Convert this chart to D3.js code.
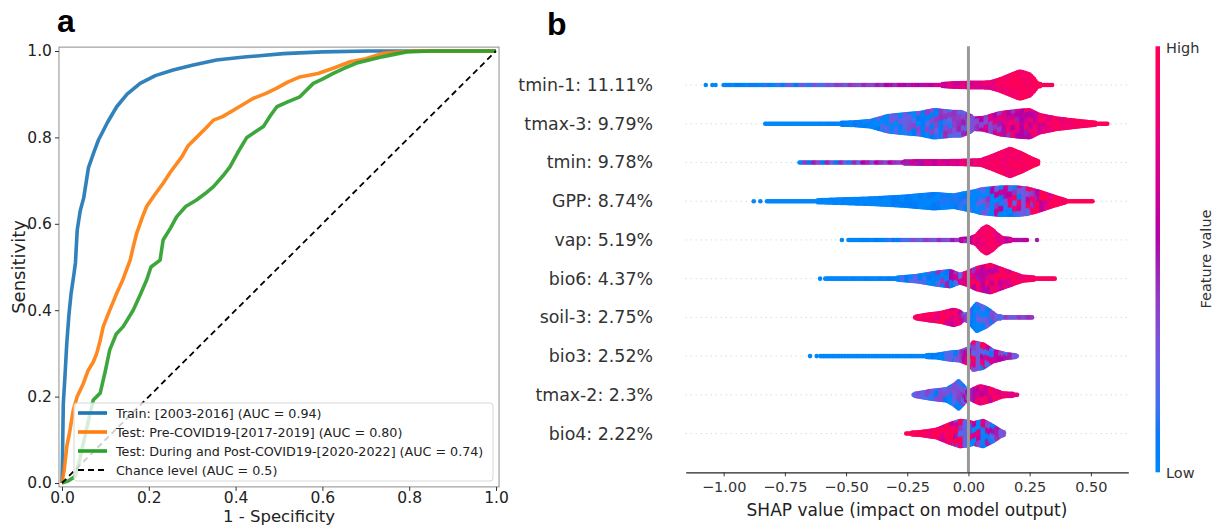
<!DOCTYPE html>
<html>
<head>
<meta charset="utf-8">
<script src="https://cdn.jsdelivr.net/npm/d3@7"></script>
<style>
  body { margin: 0; background: #fff; }
  svg { font-family: "DejaVu Sans", sans-serif; }
</style>
</head>
<body>
<svg id="fig" width="1215" height="527"></svg>
<script>
// ---------- panel a : ROC curves ----------
const rocTicks = [0, 0.2, 0.4, 0.6, 0.8, 1.0];

const rocTrain = [[0,0],[0.001,0.05],[0.003,0.184],[0.007,0.25],[0.011,0.323],[0.016,0.39],[0.021,0.439],
  [0.027,0.48],[0.031,0.51],[0.035,0.585],[0.042,0.63],[0.05,0.66],[0.061,0.73],[0.075,0.77],[0.084,0.794],
  [0.105,0.835],[0.126,0.871],[0.15,0.9],[0.18,0.925],[0.215,0.943],[0.256,0.956],[0.3,0.967],[0.356,0.979],
  [0.42,0.986],[0.51,0.994],[0.6,0.998],[0.71,1.0],[1.0,1.0]];

const rocPre = [[0,0],[0.005,0.03],[0.011,0.084],[0.018,0.12],[0.026,0.169],[0.035,0.2],[0.049,0.23],[0.06,0.26],
  [0.072,0.28],[0.08,0.3],[0.088,0.33],[0.095,0.362],[0.11,0.4],[0.126,0.439],[0.14,0.47],[0.157,0.516],
  [0.165,0.55],[0.172,0.578],[0.185,0.615],[0.195,0.64],[0.212,0.665],[0.233,0.694],[0.25,0.72],[0.276,0.755],
  [0.29,0.78],[0.31,0.8],[0.33,0.82],[0.349,0.84],[0.37,0.848],[0.395,0.863],[0.42,0.878],[0.44,0.89],
  [0.47,0.902],[0.495,0.914],[0.52,0.928],[0.548,0.94],[0.59,0.948],[0.625,0.96],[0.664,0.975],[0.7,0.982],
  [0.74,0.995],[0.81,1.0],[1.0,1.0]];

const rocPost = [[0,0],[0.015,0.005],[0.03,0.015],[0.04,0.05],[0.049,0.092],[0.06,0.14],[0.072,0.192],
  [0.088,0.208],[0.1,0.26],[0.11,0.308],[0.125,0.345],[0.141,0.362],[0.164,0.4],[0.18,0.435],[0.195,0.47],
  [0.205,0.5],[0.226,0.516],[0.233,0.5625],[0.25,0.59],[0.264,0.616],[0.285,0.64],[0.31,0.655],[0.33,0.67],
  [0.349,0.686],[0.37,0.71],[0.387,0.732],[0.405,0.765],[0.426,0.8],[0.444,0.812],[0.464,0.825],[0.48,0.85],
  [0.495,0.871],[0.52,0.882],[0.548,0.894],[0.579,0.925],[0.6,0.935],[0.625,0.948],[0.65,0.96],[0.679,0.972],
  [0.71,0.98],[0.74,0.987],[0.794,0.998],[0.85,1.0],[1.0,1.0]];

const rocChance = [[0,0],[1,1]];

const rocLabels = [
  "Train: [2003-2016] (AUC = 0.94)",
  "Test: Pre-COVID19-[2017-2019] (AUC = 0.80)",
  "Test: During and Post-COVID19-[2020-2022] (AUC = 0.74)",
  "Chance level (AUC = 0.5)"
];

// ---------- panel b : SHAP summary ----------
const shapFeatures = ["tmin-1: 11.11%", "tmax-3: 9.79%", "tmin: 9.78%", "GPP: 8.74%", "vap: 5.19%",
  "bio6: 4.37%", "soil-3: 2.75%", "bio3: 2.52%", "tmax-2: 2.3%", "bio4: 2.22%"];
const shapTicks = [-1.0, -0.75, -0.5, -0.25, 0.0, 0.25, 0.5];

// swarm profiles: [shap value, relative density, mean feature value, feature value spread]
const profTmin1 = [[-1.0,.16,0,.1],[-0.85,.16,.05,.15],[-0.7,.19,.15,.2],[-0.55,.19,.3,.2],[-0.4,.17,.42,.15],
  [-0.25,.17,.55,.15],[-0.12,.19,.65,.15],[-0.06,.25,.72,.15],[0,.28,.75,.15],[0.05,.28,.78,.15],[0.09,.31,.82,.15],
  [0.13,.5,.88,.15],[0.17,.75,.92,.12],[0.21,1,.93,.12],[0.25,.81,.94,.1],[0.27,.5,.95,.1],[0.28,.25,.95,.1],
  [0.3,.19,.96,.05],[0.345,.16,.97,.05]];
const profTmax3 = [[-0.83,.16,0,0],[-0.7,.16,0,0],[-0.55,.19,.03,.05],[-0.47,.22,.05,.1],[-0.4,.31,.08,.2],
  [-0.33,.62,.1,.3],[-0.27,.72,.13,.35],[-0.2,.81,.18,.4],[-0.14,1,.22,.4],[-0.06,.88,.3,.35],[-0.03,.88,.33,.3],
  [0.01,.62,.38,.3],[0.02,.47,.42,.3],[0.06,.5,.5,.35],[0.13,.81,.6,.45],[0.2,.94,.68,.45],[0.25,1,.72,.4],
  [0.29,.69,.78,.3],[0.36,.47,.86,.2],[0.45,.31,.93,.1],[0.54,.17,.97,.05],[0.57,.16,1,0]];
const profTmin = [[-0.69,.16,.25,.5],[-0.6,.16,.25,.5],[-0.5,.19,.3,.45],[-0.4,.19,.42,.3],[-0.3,.19,.5,.25],
  [-0.2,.22,.6,.2],[-0.1,.22,.7,.15],[0,.25,.78,.15],[0.05,.28,.82,.15],[0.09,.5,.86,.15],[0.13,.75,.9,.15],
  [0.17,1,.92,.15],[0.22,.69,.93,.12],[0.26,.38,.95,.1],[0.29,.19,.97,.05]];
const profGPP = [[-0.823,.13,0,0],[-0.7,.16,0,0],[-0.54,.24,.02,.05],[-0.4,.31,.03,.05],[-0.265,.42,.04,.08],
  [-0.14,.59,.05,.1],[-0.06,.5,.06,.12],[0.03,.78,.08,.2],[0.05,.88,.12,.3],[0.13,1,.25,.9],[0.2,1,.45,1],
  [0.24,.94,.6,.9],[0.29,.73,.78,.5],[0.35,.42,.9,.25],[0.4,.19,.95,.1],[0.51,.16,1,0]];
const profVap = [[-0.49,.16,0,0],[-0.35,.16,.05,.1],[-0.25,.16,.2,.2],[-0.15,.16,.35,.2],[-0.05,.19,.45,.2],
  [0,.22,.55,.2],[0.03,.38,.75,.2],[0.055,.81,.85,.15],[0.075,1,.9,.12],[0.1,.75,.9,.12],[0.116,.5,.85,.15],
  [0.14,.25,.75,.2],[0.18,.19,.6,.2],[0.245,.16,.55,.1]];
const profBio6 = [[-0.585,.16,0,0],[-0.45,.16,.02,.05],[-0.3,.19,.05,.1],[-0.21,.31,.12,.3],[-0.13,.52,.2,.45],
  [-0.075,.62,.28,.5],[-0.035,.38,.45,.6],[0,.56,.65,.6],[0.035,.81,.72,.5],[0.09,1,.78,.45],[0.157,.62,.82,.3],
  [0.22,.27,.88,.2],[0.28,.19,.92,.1],[0.354,.16,.95,.05]];
const profSoil3 = [[-0.218,.19,.95,.1],[-0.17,.31,.92,.15],[-0.115,.41,.88,.2],[-0.06,.62,.8,.35],[-0.035,.5,.7,.4],
  [-0.02,.28,.5,.4],[0,.38,.35,.4],[0.02,.75,.2,.35],[0.034,1,.12,.3],[0.075,.69,.15,.3],[0.116,.22,.25,.3],
  [0.18,.16,.35,.2],[0.26,.16,.4,.1]];
const profBio3 = [[-0.605,.16,0,0],[-0.4,.16,0,0],[-0.2,.19,.02,.05],[-0.13,.22,.05,.1],[-0.075,.36,.12,.2],
  [-0.035,.41,.2,.3],[0,.62,.5,.8],[0.02,1,.6,.9],[0.06,.88,.55,.9],[0.1,.47,.4,.6],[0.157,.25,.35,.4],[0.2,.19,.35,.3]];
const profTmax2 = [[-0.224,.19,.3,.15],[-0.156,.38,.25,.25],[-0.088,.5,.2,.3],[-0.06,.75,.18,.4],[-0.04,1,.2,.4],
  [-0.02,.69,.25,.4],[0,.31,.45,.4],[0.02,.5,.65,.45],[0.048,.69,.75,.4],[0.09,.52,.8,.3],[0.14,.23,.85,.2],[0.2,.19,.8,.1]];
const profBio4 = [[-0.254,.19,1,0],[-0.2,.22,.95,.1],[-0.13,.38,.9,.2],[-0.075,.73,.8,.5],[-0.035,.94,.65,.9],
  [0,.88,.5,1],[0.02,.78,.4,1],[0.06,.94,.35,.9],[0.1,.62,.3,.6],[0.13,.31,.35,.4],[0.15,.19,.4,.3]];

// single separated points at the tails: [shap value, feature value]
const outTmin1 = [[-1.073,0],[-1.046,0],[-1.033,0]];
const outGPP = [[-0.877,0],[-0.85,0]];
const outVap = [[-0.517,0],[0.28,0.5]];
const outBio6 = [[-0.606,0]];
const outBio3 = [[-0.647,0],[-0.62,0]];

const shapProfiles = [profTmin1, profTmax3, profTmin, profGPP, profVap, profBio6, profSoil3, profBio3, profTmax2, profBio4];
const shapOutliers = [outTmin1, [], [], outGPP, outVap, outBio6, [], outBio3, [], []];


//shap's red-blue map: hue turns blue -> purple -> red while lightness dips in the middle
function shapColor(t) {
  let h = 266.9 + 113.4 * t;
  let c = 70 + 20 * t;
  let l = t < 0.5 ? 54 - 28 * t : 26 + 28 * t;
  return d3.hcl(h, c, l).formatHex();
}


function makeRoc(svg) {
  let x = d3.scaleLinear().domain([0, 1]).range([62, 496]);
  let y = d3.scaleLinear().domain([0, 1]).range([483, 51]);
  let colors = ["#1f77b4", "#ff7f0e", "#2ca02c"];

  let g = svg.append("g");

  //frame
  g.append("rect")
    .attr("x", x(-0.007)).attr("y", y(1.009))
    .attr("width", x(1.007) - x(-0.007)).attr("height", y(-0.009) - y(1.009))
    .attr("fill", "none").attr("stroke", "#8c8c8c").attr("stroke-width", 1);

  let line = d3.line().x(d => x(d[0])).y(d => y(d[1]));

  [rocTrain, rocPre, rocPost].forEach((data, i) => {
    g.append("path")
      .datum(data)
      .attr("d", line)
      .attr("fill", "none")
      .attr("stroke", colors[i])
      .attr("stroke-width", 3.6)
      .attr("stroke-linejoin", "round")
      .attr("opacity", 0.92);
  });

  g.append("path")
    .datum(rocChance)
    .attr("d", line)
    .attr("fill", "none")
    .attr("stroke", "#000")
    .attr("stroke-width", 1.8)
    .attr("stroke-dasharray", "6,4");

  //AXES
  let xAxis = d3.axisBottom(x).tickValues(rocTicks).tickFormat(d3.format(".1f")).tickSize(4).tickPadding(1);
  let yAxis = d3.axisLeft(y).tickValues(rocTicks).tickFormat(d3.format(".1f")).tickSize(4).tickPadding(3);

  let ax = g.append("g").attr("transform", `translate(0, ${y(-0.009)})`).call(xAxis);
  let ay = g.append("g").attr("transform", `translate(${x(-0.007)}, 0)`).call(yAxis);
  [ax, ay].forEach(a => {
    a.select(".domain").remove();
    a.selectAll("line").attr("stroke", "#333");
    a.selectAll("text").attr("fill", "#222").style("font-size", "15.5px").style("font-family", "DejaVu Sans");
  });

  //LABELS
  g.append("text")
    .attr("x", (x(0) + x(1)) / 2).attr("y", 522)
    .attr("text-anchor", "middle")
    .style("font-size", "16.5px").attr("fill", "#222")
    .text("1 - Specificity");

  g.append("text")
    .attr("transform", "rotate(-90)")
    .attr("x", -(y(0) + y(1)) / 2).attr("y", 25)
    .attr("text-anchor", "middle")
    .style("font-size", "18px").attr("fill", "#222")
    .text("Sensitivity");

  //legend
  let lg = g.append("g").attr("transform", "translate(74, 403)");
  lg.append("rect")
    .attr("width", 419).attr("height", 78).attr("rx", 3)
    .attr("fill", "#fff").attr("fill-opacity", 0.8)
    .attr("stroke", "#d6d6d6");

  rocLabels.forEach((label, i) => {
    let row = lg.append("g").attr("transform", `translate(0, ${10 + i * 19})`);
    row.append("line")
      .attr("x1", 4).attr("x2", 33).attr("y1", 0).attr("y2", 0)
      .attr("stroke", i < 3 ? colors[i] : "#000")
      .attr("stroke-width", i < 3 ? 3.6 : 1.8)
      .attr("stroke-dasharray", i < 3 ? null : "6,4");
    row.append("text")
      .attr("x", 42).attr("y", 4.5)
      .style("font-size", "12.7px").attr("fill", "#222")
      .text(label);
  });

  g.append("text")
    .attr("x", 57).attr("y", 31.5)
    .style("font-family", "Liberation Sans, Arial, sans-serif")
    .style("font-size", "32px").style("font-weight", "bold")
    .text("a");
}


function makeShap(svg) {
  let x = d3.scaleLinear().domain([-1.155, 0.653]).range([685.7, 1128.3]);
  let y = d3.scaleLinear().domain([-1, shapFeatures.length]).range([46.3, 472.3]);
  let rowStep = y(1) - y(0);
  let maxHalf = 0.41 * rowStep;
  let r = 2.3;

  let g = svg.append("g");

  //dotted guide lines for each feature
  g.selectAll(".guide")
    .data(shapFeatures)
    .enter()
    .append("line")
    .attr("x1", x.range()[0]).attr("x2", x.range()[1])
    .attr("y1", (d, i) => y(i)).attr("y2", (d, i) => y(i))
    .attr("stroke", "#cccccc").attr("stroke-width", 1)
    .attr("stroke-dasharray", "1,4");

  let bis = d3.bisector(d => d[0]).left;
  function sample(prof, s) {
    let k = Math.max(1, Math.min(prof.length - 1, bis(prof, s)));
    let a = prof[k - 1], b = prof[k];
    let t = (s - a[0]) / (b[0] - a[0]);
    return [1, 2, 3].map(j => a[j] + (b[j] - a[j]) * t);
  }

  //swarm dots, laid out column by column inside each profile
  shapProfiles.forEach((prof, row) => {
    let dots = [];
    let px0 = x(prof[0][0]), px1 = x(prof[prof.length - 1][0]);
    let col = 0;
    for (let px = px0; px <= px1 + 0.01; px += 1.5, col++) {
      let [dens, fv, spread] = sample(prof, x.invert(px));
      let inner = Math.max(0, dens * maxHalf - r);
      let n = 1 + Math.floor(2 * inner / 1.8);
      for (let j = 0; j < n; j++) {
        let off = n == 1 ? 0 : -inner + 2 * inner * j / (n - 1);
        //colour is shared by small cells of dots so mixed regions look speckled
        let cc = Math.floor(col / 3);
        let cj = Math.floor((j + (cc % 3)) / 3);
        let p = ((cc * 7 + cj * 5 + cc * cj * 3) % 11) / 10 - 0.5;
        let pat = Math.sign(p) * Math.sqrt(Math.abs(p) * 0.5);
        dots.push({ px: px, py: y(row) + off, fv: Math.max(0, Math.min(1, fv + spread * pat)) });
      }
    }
    shapOutliers[row].forEach(o => dots.push({ px: x(o[0]), py: y(row), fv: o[1] }));

    g.append("g")
      .selectAll("circle")
      .data(dots)
      .enter()
      .append("circle")
      .attr("cx", d => d.px)
      .attr("cy", d => d.py)
      .attr("r", r)
      .attr("fill", d => shapColor(d.fv));
  });

  //zero line
  g.append("line")
    .attr("x1", x(0)).attr("x2", x(0))
    .attr("y1", y(-1)).attr("y2", y(shapFeatures.length))
    .attr("stroke", "#999").attr("stroke-width", 3);

  //feature labels
  g.selectAll(".flabel")
    .data(shapFeatures)
    .enter()
    .append("text")
    .attr("x", 653)
    .attr("y", (d, i) => y(i) + 6)
    .attr("text-anchor", "end")
    .style("font-size", "17.4px").attr("fill", "#333")
    .text(d => d);

  //AXIS
  let xAxis = d3.axisBottom(x).tickValues(shapTicks).tickFormat(d => d3.format(".2f")(d).replace("-", "\u2212"))
    .tickSize(4).tickSizeOuter(0).tickPadding(5);
  let ax = g.append("g").attr("transform", `translate(0, ${y(shapFeatures.length)})`).call(xAxis);
  ax.select(".domain").attr("stroke", "#222").attr("stroke-width", 1.2);
  ax.selectAll("line").attr("stroke", "#333");
  ax.selectAll("text").attr("fill", "#333").style("font-size", "14.5px").style("font-family", "DejaVu Sans");

  g.append("text")
    .attr("x", (x.range()[0] + x.range()[1]) / 2).attr("y", 516)
    .attr("text-anchor", "middle")
    .style("font-size", "17px").attr("fill", "#222")
    .text("SHAP value (impact on model output)");

  //colorbar
  let defs = svg.append("defs");
  let grad = defs.append("linearGradient").attr("id", "fvgrad")
    .attr("x1", 0).attr("y1", 1).attr("x2", 0).attr("y2", 0);
  d3.range(0, 1.01, 0.05).forEach(t => {
    grad.append("stop").attr("offset", t).attr("stop-color", shapColor(t));
  });
  g.append("rect")
    .attr("x", 1155.5).attr("y", y(-1))
    .attr("width", 4.5).attr("height", y(shapFeatures.length) - y(-1))
    .attr("fill", "url(#fvgrad)");

  g.append("text").attr("x", 1166).attr("y", 53)
    .style("font-size", "14.5px").attr("fill", "#333").text("High");
  g.append("text").attr("x", 1166).attr("y", 478)
    .style("font-size", "14.5px").attr("fill", "#333").text("Low");
  g.append("text")
    .attr("transform", "rotate(-90)")
    .attr("x", -259).attr("y", 1211)
    .attr("text-anchor", "middle")
    .style("font-size", "14.5px").attr("fill", "#333")
    .text("Feature value");

  g.append("text")
    .attr("x", 547).attr("y", 35)
    .style("font-family", "Liberation Sans, Arial, sans-serif")
    .style("font-size", "32px").style("font-weight", "bold")
    .text("b");
}


window.onload = function () {
  let svg = d3.select("#fig");
  makeRoc(svg);
  makeShap(svg);
}
</script>
</body>
</html>
